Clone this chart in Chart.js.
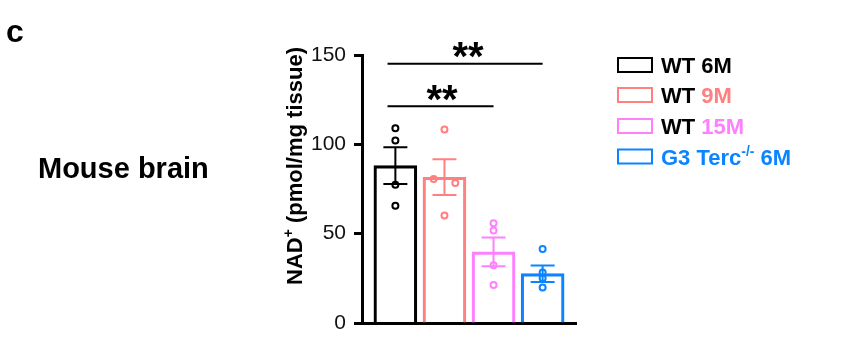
<!DOCTYPE html>
<html>
<head>
<meta charset="utf-8">
<script src="https://cdn.jsdelivr.net/npm/chart.js@4.4.1/dist/chart.umd.min.js"></script>
<style>
  body { margin: 0; background: #fff; }
  canvas { display: block; }
</style>
</head>
<body>
<canvas id="nad-chart" width="864" height="351"></canvas>
<script>
const groups = ['WT 6M', 'WT 9M', 'WT 15M', 'G3 Terc-/- 6M'];
const means = [88.1, 81.6, 39.8, 27.6];
const sems = [10.3, 10, 8.1, 4.6];
const points1 = [109, 102.2, 77.4, 65.6];
const points2 = [108.3, 80.6, 78.4, 60.2];
const points3 = [55.9, 51.8, 32.3, 21.2];
const points4 = [41.4, 28.3, 25, 19.9];
const jitter2 = [0, -0.22, 0.22, 0];
const yTicks = [0, 50, 100, 150];
const colors = ['#000000', '#ff8080', '#ff80ff', '#0a84ff'];

const FONT = '"Liberation Sans", Arial, Helvetica, sans-serif';

function pts(vals, i, jit) {
  return vals.map((v, k) => ({ x: i + (jit ? jit[k] : 0), y: v }));
}

const annotations = {
  id: 'annotations',
  afterDatasetsDraw(chart) {
    const c = chart.ctx;
    const xs = chart.scales.x;
    const ys = chart.scales.y;

    // error bars
    c.save();
    c.lineWidth = 2;
    means.forEach((m, i) => {
      const x = xs.getPixelForValue(i);
      const hi = ys.getPixelForValue(m + sems[i]);
      const lo = ys.getPixelForValue(m - sems[i]);
      c.strokeStyle = colors[i];
      c.beginPath();
      c.moveTo(x, hi); c.lineTo(x, lo);
      c.moveTo(x - 12, hi); c.lineTo(x + 12, hi);
      c.moveTo(x - 12, lo); c.lineTo(x + 12, lo);
      c.stroke();
    });

    // significance stars
    c.fillStyle = '#000';
    c.font = 'bold 40px ' + FONT;
    c.textAlign = 'center';
    c.textBaseline = 'alphabetic';
    c.fillText('**', xs.getPixelForValue(1.48), ys.getPixelForValue(145.1) + 6.5);
    c.fillText('**', xs.getPixelForValue(0.95), ys.getPixelForValue(121.3) + 6.5);
    c.restore();
  },
  afterDraw(chart) {
    const c = chart.ctx;
    c.save();
    c.fillStyle = '#000';
    c.textBaseline = 'alphabetic';
    c.textAlign = 'left';
    c.font = 'bold 32px ' + FONT;
    c.fillText('c', 6, 42);
    c.font = 'bold 29px ' + FONT;
    c.fillText('Mouse brain', 38, 178);

    // y axis title with superscript
    c.save();
    c.translate(302, 166);
    c.rotate(-Math.PI / 2);
    const a = 'NAD';
    const b = ' (pmol/mg tissue)';
    c.font = 'bold 22px ' + FONT;
    const wa = c.measureText(a).width;
    const wb = c.measureText(b).width;
    c.font = 'bold 14px ' + FONT;
    const wp = c.measureText('+').width;
    let x0 = -(wa + wp + wb) / 2;
    c.font = 'bold 22px ' + FONT;
    c.fillText(a, x0, 0);
    c.font = 'bold 14px ' + FONT;
    c.fillText('+', x0 + wa, -9);
    c.font = 'bold 22px ' + FONT;
    c.fillText(b, x0 + wa + wp, 0);
    c.restore();

    // legend
    const rows = [65, 95, 126, 156.5];
    rows.forEach((y, i) => {
      c.strokeStyle = colors[i];
      c.lineWidth = 2;
      c.strokeRect(618, y - 7, 34, 14);
    });
    function seg(parts, y) {
      let x = 661;
      parts.forEach(p => {
        c.font = 'bold ' + p.size + 'px ' + FONT;
        c.fillStyle = p.color;
        c.fillText(p.t, x, y + 8 + (p.dy || 0));
        x += c.measureText(p.t).width;
      });
    }
    seg([{ t: 'WT 6M', color: colors[0], size: 22 }], rows[0]);
    seg([{ t: 'WT ', color: '#000', size: 22 }, { t: '9M', color: colors[1], size: 22 }], rows[1]);
    seg([{ t: 'WT ', color: '#000', size: 22 }, { t: '15M', color: colors[2], size: 22 }], rows[2]);
    seg([{ t: 'G3 Terc', color: colors[3], size: 22 },
         { t: '-/-', color: colors[3], size: 14, dy: -9 },
         { t: ' 6M', color: colors[3], size: 22 }], rows[3]);
    c.restore();
  }
};

const scatterStyle = (i) => ({
  type: 'scatter',
  borderColor: colors[i],
  backgroundColor: 'rgba(255,255,255,0)',
  pointRadius: 3,
  pointBorderWidth: 2,
  pointHoverRadius: 3,
  order: 0
});

new Chart(document.getElementById('nad-chart'), {
  type: 'bar',
  data: {
    datasets: [
      {
        label: 'means',
        data: means.map((m, i) => ({ x: i, y: m })),
        backgroundColor: 'rgba(255,255,255,0)',
        borderColor: colors,
        borderWidth: 2.5,
        barThickness: 43,
        order: 2
      },
      Object.assign({ label: groups[0], data: pts(points1, 0) }, scatterStyle(0)),
      Object.assign({ label: groups[1], data: pts(points2, 1, jitter2) }, scatterStyle(1)),
      Object.assign({ label: groups[2], data: pts(points3, 2) }, scatterStyle(2)),
      Object.assign({ label: groups[3], data: pts(points4, 3) }, scatterStyle(3)),
      {
        type: 'line', label: 'sig1',
        data: [{ x: -0.16, y: 145.1 }, { x: 3, y: 145.1 }],
        borderColor: '#000', borderWidth: 2, pointRadius: 0, order: 1
      },
      {
        type: 'line', label: 'sig2',
        data: [{ x: -0.16, y: 121.3 }, { x: 2, y: 121.3 }],
        borderColor: '#000', borderWidth: 2, pointRadius: 0, order: 1
      }
    ]
  },
  options: {
    responsive: false,
    animation: false,
    layout: { padding: { left: 0, right: 288, top: 55, bottom: 0 } },
    plugins: {
      legend: { display: false },
      tooltip: { enabled: false }
    },
    scales: {
      x: {
        type: 'linear',
        offset: false,
        min: -0.68,
        max: 3.68,
        grid: { display: false },
        ticks: { display: false },
        border: { display: true, width: 3, color: '#000' },
        afterFit(scale) { scale.height = 28; }
      },
      y: {
        min: 0,
        max: 150,
        afterBuildTicks(scale) { scale.ticks = yTicks.map(v => ({ value: v })); },
        grid: {
          drawOnChartArea: false,
          drawTicks: true,
          tickLength: 8,
          tickWidth: 3,
          tickColor: '#000'
        },
        border: { display: true, width: 3, color: '#000' },
        ticks: {
          padding: 8,
          color: '#111',
          font: { family: FONT, size: 21 }
        },
        afterFit(scale) { scale.width = 362; }
      }
    }
  },
  plugins: [annotations]
});
</script>
</body>
</html>
